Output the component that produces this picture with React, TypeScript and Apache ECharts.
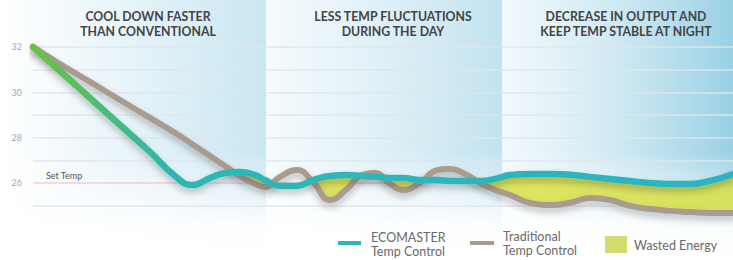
import React, { useEffect, useRef } from "react";
import * as echarts from "echarts";

// time axis (arbitrary units across the day)
const times = [0, 2.7, 5.7, 8.7, 11.7, 14.2, 15.9, 17.7, 19.2, 20.7, 22.2, 23.2, 24.7, 26.4, 28, 29.7, 31.4, 32.9, 34.2, 35.7, 37, 38.7, 40.4, 41.7, 43.2, 44.7, 46.2, 47.7, 49.7, 52, 54, 55.7, 57.7, 59.7, 61.7, 63.7, 65.7, 67.7, 70];

const ecomaster = [32.0, 30.94, 29.75, 28.56, 27.37, 26.31, 25.91, 26.22, 26.44, 26.49, 26.35, 26.13, 25.87, 25.87, 26.13, 26.31, 26.35, 26.31, 26.27, 26.22, 26.22, 26.13, 26.13, 26.09, 26.09, 26.09, 26.18, 26.35, 26.4, 26.4, 26.35, 26.27, 26.18, 26.09, 26.0, 25.96, 25.96, 26.09, 26.4];

const traditional = [32.0, 31.25, 30.46, 29.66, 28.87, 28.21, 27.72, 27.19, 26.75, 26.31, 25.96, 25.82, 26.27, 26.57, 26.04, 25.25, 25.74, 26.35, 26.44, 25.96, 25.69, 26.0, 26.57, 26.62, 26.4, 26.0, 25.69, 25.47, 25.12, 25.03, 25.16, 25.34, 25.25, 24.99, 24.85, 24.77, 24.72, 24.68, 24.68];

const yTickLabels = ["26", "28", "30", "32"];
const setTempLabel = "Set Temp";
const panelTitles = [
  "COOL DOWN FASTER\nTHAN CONVENTIONAL",
  "LESS TEMP FLUCTUATIONS\nDURING THE DAY",
  "DECREASE IN OUTPUT AND\nKEEP TEMP STABLE AT NIGHT",
];
const legendLabels = ["ECOMASTER\nTemp Control", "Traditional\nTemp Control", "Wasted Energy"];

const TEAL = "#2bb5c2";
const TAUPE = "#a99c8e";
const WASTE = "rgba(214,222,58,0.8)";

export default function App() {
  const ref = useRef<HTMLDivElement>(null);

  useEffect(() => {
    document.body.style.margin = "0";
    const chart = echarts.init(ref.current!, null, { renderer: "svg" });

    const n = times.length;
    const ecoData = times.map((t, i) => [t, ecomaster[i]]);
    const tradData = times.map((t, i) => [t, traditional[i]]);

    // contiguous stretches where the traditional curve falls below ECOMASTER
    const regions: number[][] = [];
    let start = -1;
    for (let i = 0; i < n; i++) {
      const pos = ecomaster[i] > traditional[i];
      if (pos && start < 0) start = Math.max(0, i - 1);
      if (!pos && start >= 0) {
        regions.push([start, i]);
        start = -1;
      }
    }
    if (start >= 0) regions.push([start, n - 1]);

    const hGrad = (a: string, b: string) =>
      new echarts.graphic.LinearGradient(0, 0, 1, 0, [
        { offset: 0, color: a },
        { offset: 1, color: b },
      ]);

    const titleFont = { fontFamily: "Lato", fontWeight: "bold" as const, fontSize: 12.3, fill: "#444444", lineHeight: 15, align: "center" as const, verticalAlign: "top" as const };
    const legFont = { fontFamily: "Lato", fontSize: 12.5, fill: "#6a6a6a", lineHeight: 14 };

    chart.setOption({
      animation: false,
      grid: { left: 33, right: 0, top: 24.33, bottom: 31.67 },
      xAxis: { type: "value", min: 0, max: 70, show: false },
      yAxis: {
        type: "value",
        min: 24,
        max: 33,
        interval: 1,
        axisLine: { show: false },
        axisTick: { show: false },
        axisLabel: {
          margin: 11,
          fontSize: 9,
          fontFamily: "Lato",
          color: "#a8a8a8",
          formatter: (v: number) => (yTickLabels.includes(String(v)) ? String(v) : ""),
        },
        splitLine: {
          lineStyle: {
            width: 1.5,
            color: [
              "rgba(0,0,0,0)",
              "rgba(222,230,234,0.9)",
              "rgba(240,188,188,0.7)",
              "rgba(222,230,234,0.9)",
              "rgba(222,230,234,0.9)",
              "rgba(222,230,234,0.9)",
              "rgba(222,230,234,0.9)",
              "rgba(222,230,234,0.9)",
              "rgba(222,230,234,0.9)",
              "rgba(0,0,0,0)",
            ],
          },
        },
      },
      graphic: [
        { type: "rect", z: -10, shape: { x: 0, y: 0, width: 733, height: 260 }, style: { fill: "#ffffff" } },
        { type: "rect", z: -9, shape: { x: 0, y: 0, width: 266, height: 260 }, style: { fill: hGrad("rgba(205,232,243,0)", "rgba(198,229,241,0.95)") } },
        { type: "rect", z: -9, shape: { x: 266, y: 0, width: 236, height: 260 }, style: { fill: hGrad("rgba(205,232,243,0.2)", "rgba(190,225,239,0.95)") } },
        { type: "rect", z: -9, shape: { x: 502, y: 0, width: 231, height: 260 }, style: { fill: hGrad("rgba(200,230,242,0.25)", "rgba(152,208,228,1)") } },
        {
          type: "rect",
          z: -8,
          shape: { x: 0, y: 150, width: 733, height: 110 },
          style: {
            fill: new echarts.graphic.LinearGradient(0, 0, 0, 1, [
              { offset: 0, color: "rgba(255,255,255,0)" },
              { offset: 0.7, color: "rgba(255,255,255,0.95)" },
              { offset: 1, color: "rgba(255,255,255,1)" },
            ]),
          },
        },
        { type: "text", z: 50, x: 148, y: 9, style: { text: panelTitles[0], ...titleFont } },
        { type: "text", z: 50, x: 393, y: 9, style: { text: panelTitles[1], ...titleFont } },
        { type: "text", z: 50, x: 626, y: 9, style: { text: panelTitles[2], ...titleFont } },
        { type: "text", z: 50, x: 46, y: 175, style: { text: setTempLabel, fontFamily: "Lato", fontSize: 9, fill: "#555", verticalAlign: "middle" } },
        { type: "line", z: 50, shape: { x1: 338, y1: 243, x2: 361, y2: 243 }, style: { stroke: TEAL, lineWidth: 4 } },
        { type: "text", z: 50, x: 371, y: 230, style: { text: legendLabels[0], ...legFont } },
        { type: "line", z: 50, shape: { x1: 470, y1: 243, x2: 494, y2: 243 }, style: { stroke: TAUPE, lineWidth: 4 } },
        { type: "text", z: 50, x: 503, y: 229, style: { text: legendLabels[1], ...legFont } },
        { type: "rect", z: 50, shape: { x: 605, y: 236, width: 22, height: 17 }, style: { fill: "#d4dc6e" } },
        { type: "text", z: 50, x: 634, y: 245, style: { text: legendLabels[2], ...legFont, verticalAlign: "middle" } },
      ],
      series: [
        {
          name: "Wasted Energy",
          type: "custom",
          data: regions,
          clip: true,
          silent: true,
          z: 1,
          renderItem: (params: any, api: any) => {
            const a = api.value(0);
            const b = api.value(1);
            const pts: number[][] = [];
            for (let i = a; i <= b; i++) pts.push(api.coord([times[i], ecomaster[i]]));
            for (let i = b; i >= a; i--) pts.push(api.coord([times[i], Math.min(ecomaster[i], traditional[i])]));
            return { type: "polygon", shape: { points: pts }, style: { fill: WASTE } };
          },
        },
        {
          name: "Traditional Temp Control",
          type: "line",
          data: tradData,
          smooth: true,
          symbol: "none",
          clip: false,
          lineStyle: {
            color: TAUPE,
            width: 6,
            cap: "round",
            shadowColor: "rgba(0,0,0,0.25)",
            shadowBlur: 7,
            shadowOffsetY: 4,
          },
          z: 2,
        },
        {
          name: "ECOMASTER Temp Control",
          type: "line",
          data: ecoData,
          smooth: true,
          symbol: "none",
          clip: false,
          lineStyle: {
            width: 6.5,
            cap: "round",
            color: new echarts.graphic.LinearGradient(0, 0, 1, 0, [
              { offset: 0, color: "#6cc044" },
              { offset: 0.08, color: "#52bd6a" },
              { offset: 0.2, color: "#2fb6b4" },
              { offset: 1, color: TEAL },
            ]),
            shadowColor: "rgba(0,0,0,0.25)",
            shadowBlur: 7,
            shadowOffsetY: 4,
          },
          z: 3,
        },
      ],
    });

    return () => chart.dispose();
  }, []);

  return <div ref={ref} style={{ width: 733, height: 260 }} />;
}
